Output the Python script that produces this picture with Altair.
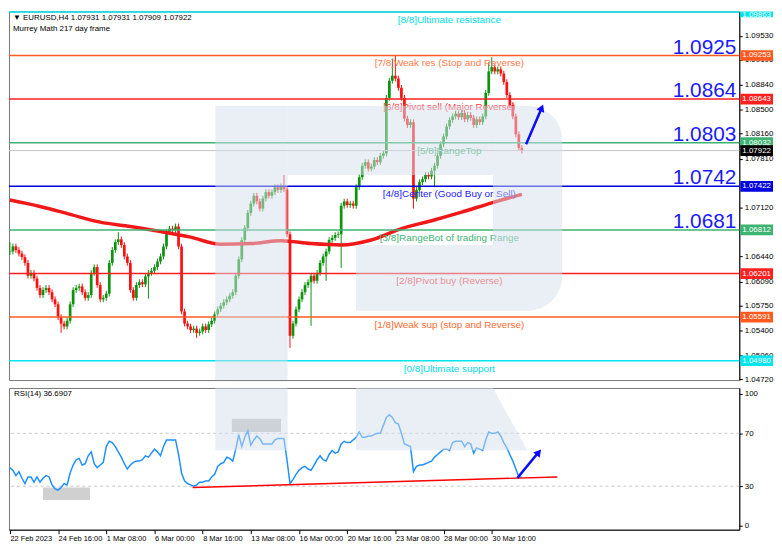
import altair as alt
import pandas as pd

# ---------------- values ----------------
CLOSE = [
    1.0651, 1.0658, 1.0653, 1.0648, 1.0643, 1.0635, 1.0617, 1.0621, 1.0613, 1.0600,
    1.0590, 1.0597, 1.0600, 1.0594, 1.0584, 1.0577, 1.0559, 1.0550, 1.0546, 1.0554,
    1.0577, 1.0597, 1.0600, 1.0602, 1.0594, 1.0586, 1.0590, 1.0621, 1.0629, 1.0604,
    1.0584, 1.0586, 1.0592, 1.0635, 1.0653, 1.0664, 1.0668, 1.0660, 1.0644, 1.0635,
    1.0597, 1.0586, 1.0604, 1.0608, 1.0605, 1.0616, 1.0621, 1.0624, 1.0629, 1.0637,
    1.0644, 1.0658, 1.0678, 1.0683, 1.0681, 1.0686, 1.0658, 1.0567, 1.0550, 1.0546,
    1.0541, 1.0543, 1.0537, 1.0539, 1.0546, 1.0541, 1.0549, 1.0554, 1.0563, 1.0570,
    1.0575, 1.0580, 1.0584, 1.0589, 1.0594, 1.0617, 1.0640, 1.0667, 1.0684, 1.0705,
    1.0718, 1.0729, 1.0721, 1.0711, 1.0725, 1.0734, 1.0729, 1.0734, 1.0741, 1.0737,
    1.0742, 1.0738, 1.0675, 1.0533, 1.0550, 1.0570, 1.0584, 1.0594, 1.0604, 1.0608,
    1.0617, 1.0610, 1.0621, 1.0635, 1.0644, 1.0651, 1.0667, 1.0670, 1.0674, 1.0675,
    1.0715, 1.0721, 1.0716, 1.0718, 1.0715, 1.0741, 1.0755, 1.0771, 1.0776, 1.0767,
    1.0770, 1.0779, 1.0776, 1.0785, 1.0788, 1.0866, 1.0890, 1.0897, 1.0893, 1.0880,
    1.0866, 1.0837, 1.0828, 1.0832, 1.0725, 1.0737, 1.0748, 1.0752, 1.0758, 1.0756,
    1.0764, 1.0771, 1.0785, 1.0801, 1.0812, 1.0826, 1.0835, 1.0840, 1.0844, 1.0839,
    1.0845, 1.0836, 1.0842, 1.0838, 1.0828, 1.0836, 1.0832, 1.0840, 1.0873, 1.0903,
    1.0909, 1.0903, 1.0906, 1.0900, 1.0888, 1.0870, 1.0856, 1.0840, 1.0815, 1.0796,
    1.0792,
]
FIRST_OPEN = 1.0650
WICK = 0.0004
HIGH_AT = {0: 1.0664, 36: 1.0678, 55: 1.0690, 91: 1.0758, 127: 1.0921,
           128: 1.0926, 159: 1.0916, 160: 1.0923}
LOW_AT = {17: 1.0537, 46: 1.0585, 62: 1.0530, 93: 1.0516, 100: 1.0547,
          105: 1.0610, 110: 1.0628, 134: 1.0711, 141: 1.0741}

RSI = [
    44, 42, 38, 41, 36, 32, 37, 37, 33, 37,
    33, 36, 38, 37, 31, 28, 27, 29, 32, 31,
    40, 46, 50, 51, 46, 47, 53, 56, 47, 44,
    46, 48, 60, 64, 63, 60, 56, 52, 47, 43,
    46, 48, 49, 49, 50, 53, 52, 55, 58, 56,
    53, 60, 65, 65, 65, 65, 54, 40, 34, 32,
    31, 30, 31, 33, 33, 34, 34, 37, 39, 45,
    47, 48, 52, 51, 49, 58, 69, 60, 67, 72,
    61, 65, 68, 66, 62, 62, 62, 62, 65, 66,
    66, 66, 50, 32, 35, 39, 42, 44, 45, 43,
    42, 46, 50, 53, 50, 49, 54, 57, 55, 56,
    62, 64, 63, 63, 65, 67, 71, 67, 67, 68,
    68, 69, 70, 70, 76, 82, 84, 82, 78, 77,
    70, 62, 61, 60, 41, 45, 46, 46, 47, 48,
    49, 52, 54, 56, 58, 58, 57, 63, 64, 64,
    64, 60, 63, 62, 55, 59, 58, 57, 65, 71,
    70, 70, 71, 68, 63, 59, 54, 49, 43, 37, 36.69,
]

MA_IDX = [0, 10, 20, 30, 40, 50, 60, 70, 80, 90, 100, 110, 120, 130, 140, 150, 160, 170]
MA = [1.0723, 1.0714, 1.0703, 1.0692, 1.0686, 1.0679, 1.0671, 1.0661, 1.0662,
      1.0666, 1.0662, 1.0660, 1.0667, 1.0683, 1.0694, 1.0706, 1.0719, 1.0731]

X_TICKS = [0, 16, 32, 48, 64, 80, 96, 112, 128, 144, 160]
X_LABELS = ["22 Feb 2023", "24 Feb 16:00", "1 Mar 08:00", "6 Mar 00:00",
            "8 Mar 16:00", "13 Mar 08:00", "16 Mar 00:00", "20 Mar 16:00",
            "23 Mar 08:00", "28 Mar 00:00", "30 Mar 16:00"]
Y_TICKS = [1.0472, 1.0506, 1.0540, 1.0575, 1.0609, 1.0644, 1.0712,
           1.0781, 1.0816, 1.0850, 1.0884, 1.0919, 1.0953]

LEVEL_PRICES = [1.09863, 1.09253, 1.08643, 1.08032, 1.07422, 1.06812, 1.06201, 1.05591, 1.04980]
LEVEL_NAMES = ["[8/8]Ultimate resistance", "[7/8]Weak res (Stop and Reverse)",
               "[6/8]Pivot sell (Major Reverse)", "[5/8]RangeTop",
               "[4/8]Center (Good Buy or Sell)", "[3/8]RangeBot of trading Range",
               "[2/8]Pivot buy (Reverse)", "[1/8]Weak sup (stop and Reverse)",
               "[0/8]Ultimate support"]
LEVEL_COLORS = ["#00e5ee", "#ff5a1f", "#ff2020", "#3cb371", "#0000e0",
                "#3cb371", "#ff2020", "#ff5a1f", "#00e5ee"]
LEVEL_TEXT_COLORS = ["#00dde6", "#ff7a4a", "#ff3a3a", "#3cb371", "#2020ff",
                     "#3cb371", "#ff3a3a", "#ff6a30", "#00dde6"]
CURRENT = 1.07922
BIG_TEXT = ["1.0925", "1.0864", "1.0803", "1.0742", "1.0681"]
BIG_PRICES = [1.09253, 1.08643, 1.08032, 1.07422, 1.06812]
HEADER = ["\u25bc EURUSD,H4  1.07931 1.07931 1.07909 1.07922", "Murrey Math 217 day frame"]
RSI_TITLE = "RSI(14) 36.6907"

# ---------------- layout / style ----------------
W, HM, HR = 737, 372, 143
XDOM = [-0.3, 242.2]
YDOM = [1.0471, 1.0987]
RDOM = [-2.9, 104.3]
GREEN, RED = "#0f930f", "#ff1010"
WM_COLOR, WM_OP = "#d5dfec", 0.5
FONT = "Liberation Sans"

xs = alt.Scale(domain=XDOM, nice=False, zero=False)
ys = alt.Scale(domain=YDOM, nice=False, zero=False)
rs = alt.Scale(domain=RDOM, nice=False, zero=False)

y_axis = alt.Axis(orient="right", values=Y_TICKS, format=".5f", title=None,
                  labelFontSize=8, labelFont=FONT, tickSize=3, labelPadding=2,
                  domainColor="#000", tickColor="#000", labelColor="#000",
                  grid=False, labelOverlap=False)
label_expr = "[" + ",".join("'%s'" % s for s in X_LABELS) + "][round(datum.value/16)]"
x_axis = alt.Axis(orient="bottom", values=X_TICKS, labelExpr=label_expr, title=None,
                  labelAlign="left", labelFontSize=7.5, labelFont=FONT, tickSize=4,
                  labelPadding=1, labelFlush=False, labelOverlap=False, grid=False,
                  domainColor="#000", tickColor="#000", labelColor="#000")
r_axis = alt.Axis(orient="right", values=[0, 30, 70, 100], format="d", title=None,
                  labelFontSize=8, labelFont=FONT, tickSize=3, labelPadding=2,
                  domainColor="#000", tickColor="#000", labelColor="#000",
                  grid=False, labelOverlap=False)


def MX(f):
    return alt.X(f, type="quantitative", scale=xs, axis=None)


def MY(f):
    return alt.Y(f, type="quantitative", scale=ys, axis=y_axis)


def RX(f):
    return alt.X(f, type="quantitative", scale=xs, axis=x_axis)


def RY(f):
    return alt.Y(f, type="quantitative", scale=rs, axis=r_axis)


# ---------------- main price panel ----------------
n = len(CLOSE)
opens = [FIRST_OPEN] + CLOSE[:-1]
highs = [HIGH_AT.get(i, max(opens[i], CLOSE[i]) + WICK) for i in range(n)]
lows = [LOW_AT.get(i, min(opens[i], CLOSE[i]) - WICK) for i in range(n)]
cdf = pd.DataFrame({"i": list(range(n)), "open": opens, "close": CLOSE,
                    "high": highs, "low": lows})
cdf["dir"] = ["up" if c >= o else "down" for o, c in zip(opens, CLOSE)]
ccol = alt.Color("dir:N", scale=alt.Scale(domain=["up", "down"], range=[GREEN, RED]), legend=None)

wicks = alt.Chart(cdf).mark_rule(strokeWidth=1).encode(
    x=MX("i"), y=MY("low"), y2="high", color=ccol)
bodies = alt.Chart(cdf).transform_calculate(
    xl="max(datum.i - 0.45, 0)", xr="datum.i + 0.45"
).mark_rect().encode(x=MX("xl"), x2="xr", y=MY("open"), y2="close", color=ccol)

ma = alt.Chart(pd.DataFrame({"i": MA_IDX, "v": MA})).mark_line(
    color="#f01818", strokeWidth=3.5, interpolate="monotone").encode(x=MX("i"), y=MY("v"))

lev = pd.DataFrame({"p": LEVEL_PRICES, "name": LEVEL_NAMES, "c": LEVEL_COLORS,
                    "tc": LEVEL_TEXT_COLORS})
lev_lines = alt.Chart(lev).mark_rule(strokeWidth=1.5).encode(
    y=MY("p"), color=alt.Color("c:N", scale=None))
cur_line = alt.Chart(pd.DataFrame({"p": [CURRENT]})).mark_rule(
    color="#c4c4c4", strokeWidth=1).encode(y=MY("p"))
lev_text = alt.Chart(lev).mark_text(baseline="top", dy=3, fontSize=10, font=FONT).encode(
    x=alt.value(W * 0.603), y=MY("p"), text="name:N", color=alt.Color("tc:N", scale=None))

big = alt.Chart(pd.DataFrame({"p": BIG_PRICES, "t": BIG_TEXT})).mark_text(
    align="right", baseline="alphabetic", dy=-2, fontSize=21, font=FONT, color="#1a1aff"
).encode(x=alt.value(W - 3), y=MY("p"), text="t:N")

head1 = alt.Chart(pd.DataFrame({"t": [HEADER[0]]})).mark_text(
    align="left", baseline="middle", fontSize=8, font=FONT, color="#000").encode(
    x=alt.value(4), y=alt.value(7), text="t:N")
head2 = alt.Chart(pd.DataFrame({"t": [HEADER[1]]})).mark_text(
    align="left", baseline="middle", fontSize=8, font=FONT, color="#000").encode(
    x=alt.value(4), y=alt.value(18), text="t:N")

# watermark "R" (decoration)
wm_df = pd.DataFrame({"x": [68.2, 92.2, 114.9], "x2": [92.2, 160.4, 160.4],
                      "y": [1.0855, 1.0855, 1.0660], "y2": [1.0471, 1.0758, 1.0568]})
wm_main = alt.Chart(wm_df).mark_rect(color=WM_COLOR, opacity=WM_OP).encode(
    x=MX("x"), x2="x2", y=MY("y"), y2="y2")
wm_bowl = alt.Chart(pd.DataFrame({"x": [160.4], "x2": [183.4], "y": [1.0855], "y2": [1.0568]})).mark_rect(
    color=WM_COLOR, opacity=WM_OP, cornerRadiusTopRight=62, cornerRadiusBottomRight=62
).encode(x=MX("x"), x2="x2", y=MY("y"), y2="y2")

arr_df = pd.DataFrame({"x": [171.4], "x2": [176.4], "y": [1.0801], "y2": [1.0850]})
arrow = alt.Chart(arr_df).mark_rule(color="#0a0aff", strokeWidth=2.5).encode(
    x=MX("x"), x2="x2", y=MY("y"), y2="y2")
arrow_head = alt.Chart(pd.DataFrame({"x": [176.6], "y": [1.0852]})).mark_point(
    shape="triangle-up", filled=True, size=70, angle=23, color="#0a0aff", opacity=1
).encode(x=MX("x"), y=MY("y"))

BOX_HALF = 0.00075
box_df = pd.DataFrame({"p": LEVEL_PRICES + [CURRENT], "c": LEVEL_COLORS + ["#000000"]})
box_df["top"] = [min(v + BOX_HALF, YDOM[1]) for v in box_df["p"]]
box_df["bot"] = box_df["p"] - BOX_HALF
box_df["ty"] = [min(v, YDOM[1] - 0.00055) for v in box_df["p"]]
box_df["lab"] = ["%.5f" % v for v in box_df["p"]]
boxes = alt.Chart(box_df).mark_rect().encode(
    x=alt.value(W + 1), x2=alt.value(W + 34), y=MY("top"), y2="bot",
    color=alt.Color("c:N", scale=None))
box_text = alt.Chart(box_df).mark_text(
    align="center", baseline="middle", fontSize=8, font=FONT, color="#ffffff").encode(
    x=alt.value(W + 17.5), y=MY("ty"), text="lab:N")

main = alt.layer(
    wicks, bodies, ma, lev_lines, cur_line, lev_text, head1, head2,
    wm_main, wm_bowl, big, arrow, arrow_head, boxes, box_text
).properties(width=W, height=HM)

# ---------------- RSI panel ----------------
rdf = pd.DataFrame({"i": list(range(len(RSI))), "r": RSI})
guides = alt.Chart(pd.DataFrame({"v": [30, 70]})).mark_rule(
    color="#c8c8c8", strokeDash=[3, 3], strokeWidth=1).encode(y=RY("v"))
grey_df = pd.DataFrame({"x": [11.0, 73.7], "x2": [26.6, 90.0], "y": [29, 81], "y2": [19.6, 71],
                        "c": ["#d0d0d0", "#c4c4c4"]})
greys = alt.Chart(grey_df).mark_rect().encode(
    x=RX("x"), x2="x2", y=RY("y"), y2="y2", color=alt.Color("c:N", scale=None))
rsi_line = alt.Chart(rdf).mark_line(color="#1e90ff", strokeWidth=1.5).encode(
    x=RX("i"), y=RY("r"))
support = alt.Chart(pd.DataFrame({"x": [60.7], "x2": [181.8], "y": [29], "y2": [37]})).mark_rule(
    color="#ff0000", strokeWidth=1.5).encode(x=RX("x"), x2="x2", y=RY("y"), y2="y2")
wm_stem_r = alt.Chart(pd.DataFrame({"x": [68.2], "x2": [92.2], "y": [104.3], "y2": [57.2]})).mark_rect(
    color=WM_COLOR, opacity=WM_OP).encode(x=RX("x"), x2="x2", y=RY("y"), y2="y2")
wm_leg = alt.Chart(pd.DataFrame({"r": [57.2, 104.3], "xa": [114.9, 114.9], "xb": [171.8, 160.4]})).mark_area(
    orient="horizontal", color=WM_COLOR, opacity=WM_OP).encode(y=RY("r"), x=RX("xa"), x2="xb")
r_arrow = alt.Chart(pd.DataFrame({"x": [168.5], "x2": [175.3], "y": [36.2], "y2": [55.0]})).mark_rule(
    color="#0a0aff", strokeWidth=2.5).encode(x=RX("x"), x2="x2", y=RY("y"), y2="y2")
r_head = alt.Chart(pd.DataFrame({"x": [175.6], "y": [55.6]})).mark_point(
    shape="triangle-up", filled=True, size=70, angle=39, color="#0a0aff", opacity=1
).encode(x=RX("x"), y=RY("y"))
r_title = alt.Chart(pd.DataFrame({"t": [RSI_TITLE]})).mark_text(
    align="left", baseline="middle", fontSize=8, font=FONT, color="#000").encode(
    x=alt.value(5), y=alt.value(6), text="t:N")

rsi = alt.layer(
    guides, greys, rsi_line, support, wm_stem_r, wm_leg, r_arrow, r_head, r_title
).properties(width=W, height=HR)

chart = alt.vconcat(main, rsi, spacing=3).properties(
    padding={"left": -6, "top": 0, "right": 0, "bottom": 0}, background="white"
).configure_view(stroke="#777777", strokeWidth=1)

chart.save("out.html", embed_options={"renderer": "svg", "actions": False})
